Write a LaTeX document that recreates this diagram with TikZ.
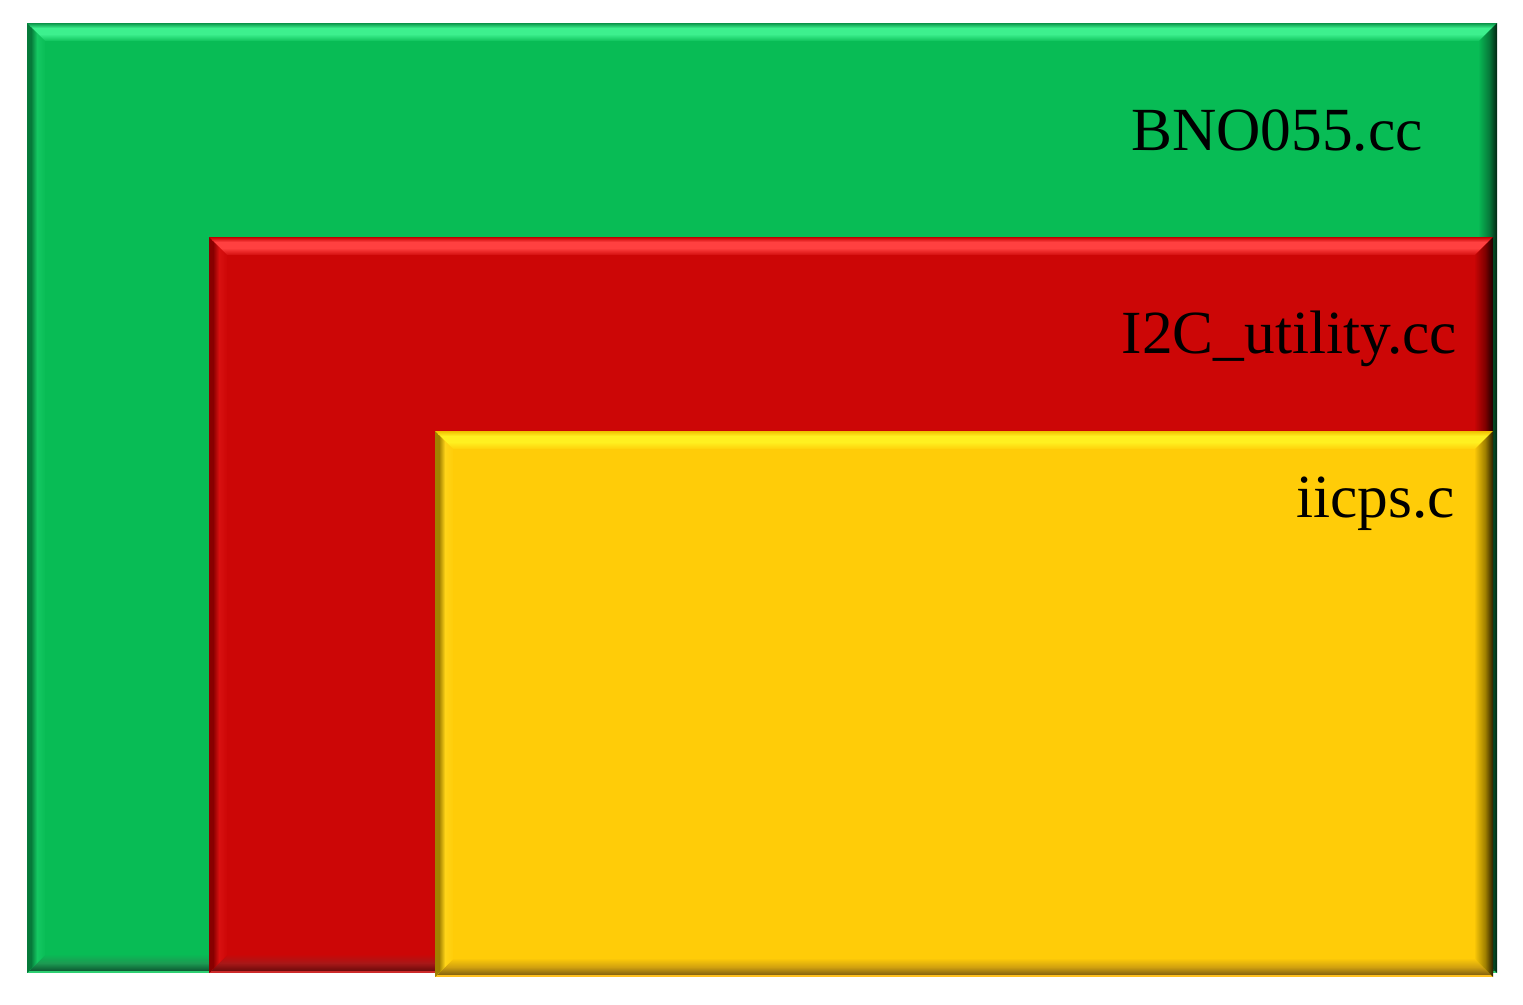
\documentclass[tikz,border=0pt]{standalone}
\usepackage{fontspec}
\setmainfont{Liberation Serif}
\definecolor{gbase}{HTML}{08BC55}
\definecolor{glight}{HTML}{3DF08E}
\definecolor{gtop}{HTML}{0A9448}
\definecolor{gleft}{HTML}{067A3A}
\definecolor{glhi}{HTML}{14C862}
\definecolor{gright}{HTML}{022412}
\definecolor{grmid}{HTML}{067A3A}
\definecolor{gbmid}{HTML}{1C9A52}
\definecolor{gbot}{HTML}{0C5630}
\definecolor{gline}{HTML}{2ECF72}
\definecolor{rbase}{HTML}{CC0606}
\definecolor{rlight}{HTML}{FF4040}
\definecolor{rtop}{HTML}{C00000}
\definecolor{rleft}{HTML}{880000}
\definecolor{rlhi}{HTML}{D81010}
\definecolor{rright}{HTML}{1A0000}
\definecolor{rrmid}{HTML}{800000}
\definecolor{rbmid}{HTML}{A81818}
\definecolor{rbot}{HTML}{6A0A0A}
\definecolor{rline}{HTML}{CC2A2A}
\definecolor{ybase}{HTML}{FFCC08}
\definecolor{ylight}{HTML}{FFF020}
\definecolor{ytop}{HTML}{F0C000}
\definecolor{yleft}{HTML}{A08000}
\definecolor{ylhi}{HTML}{FFD418}
\definecolor{yright}{HTML}{2A1E00}
\definecolor{yrmid}{HTML}{A08000}
\definecolor{ybmid}{HTML}{D0A010}
\definecolor{ybot}{HTML}{806010}
\definecolor{yline}{HTML}{FFC020}
% #1 x1, #2 y1, #3 x2, #4 y2 (pixels, y downwards), #5 colour prefix
\newcommand\bevbox[5]{%
  \fill[#5base] (#1,-#2) rectangle (#3,-#4);
  % top bevel
  \begin{scope}
    \clip (#1,-#2) -- (#3,-#2) -- ({#3-18},{-#2-18}) -- ({#1+18},{-#2-18}) -- cycle;
    \shade[top color=#5top, bottom color=#5light] (#1,-#2) rectangle (#3,{-#2-5});
    \fill[#5light] (#1,{-#2-5}) rectangle (#3,{-#2-11});
    \shade[top color=#5light, bottom color=#5base] (#1,{-#2-11}) rectangle (#3,{-#2-19});
  \end{scope}
  % bottom bevel
  \begin{scope}
    \clip (#1,-#4) -- (#3,-#4) -- ({#3-18},{-#4+18}) -- ({#1+18},{-#4+18}) -- cycle;
    \shade[top color=#5base, bottom color=#5bmid] (#1,{-#4+19}) rectangle (#3,{-#4+10});
    \shade[top color=#5bmid, bottom color=#5bot] (#1,{-#4+10}) rectangle (#3,{-#4+2});
    \fill[#5line] (#1,{-#4+2}) rectangle (#3,-#4);
  \end{scope}
  % left bevel
  \begin{scope}
    \clip (#1,-#2) -- ({#1+18},{-#2-18}) -- ({#1+18},{-#4+18}) -- (#1,-#4) -- cycle;
    \fill[#5left] (#1,-#2) rectangle ({#1+4},-#4);
    \shade[left color=#5left, right color=#5lhi] ({#1+4},-#2) rectangle ({#1+10},-#4);
    \shade[left color=#5lhi, right color=#5base] ({#1+10},-#2) rectangle ({#1+19},-#4);
  \end{scope}
  % right bevel
  \begin{scope}
    \clip (#3,-#2) -- ({#3-18},{-#2-18}) -- ({#3-18},{-#4+18}) -- (#3,-#4) -- cycle;
    \shade[left color=#5base, right color=#5rmid] ({#3-19},-#2) rectangle ({#3-8},-#4);
    \shade[left color=#5rmid, right color=#5right] ({#3-8},-#2) rectangle (#3,-#4);
  \end{scope}
}
\begin{document}
\begin{tikzpicture}[x=0.75pt,y=0.75pt,
  lbl/.style={anchor=base east, inner sep=0pt, font=\fontsize{46}{54}\selectfont, text=black}]
\useasboundingbox (0,0) rectangle (1523,-1004);
\bevbox{27}{23}{1497}{973}{g}
\bevbox{209}{237}{1493}{973}{r}
\bevbox{435}{431}{1493}{977}{y}
\node[lbl] (bno) at (1423,-150) {BNO055.cc};
\node[lbl] (i2c) at (1457,-353) {I2C\_utility.cc};
\node[lbl] (iic) at (1455,-517) {iicps.c};
\end{tikzpicture}
\end{document}
